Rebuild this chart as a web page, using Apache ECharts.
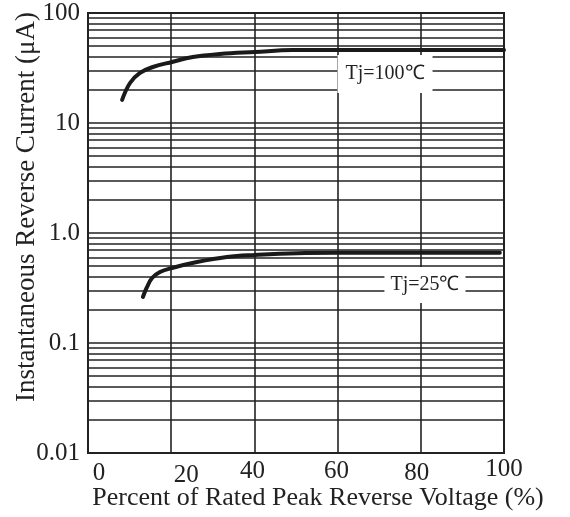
<!DOCTYPE html>
<html>
<head>
<meta charset="utf-8">
<script src="https://cdn.jsdelivr.net/npm/echarts@6/dist/echarts.min.js"></script>
<style>
html,body{margin:0;padding:0;background:#fff;}
#c{width:570px;height:517px;}
</style>
</head>
<body>
<div id="c"></div>
<script>
// Data
var pct100 = [8.2, 10.1, 12.5, 15.6, 20.2, 25.2, 31.7, 40.1, 49.3, 59.9, 70, 80, 90, 100];
var cur100 = [16.2, 23.1, 28.5, 32.3, 35.9, 39.8, 42.4, 44.2, 46.0, 46.2, 46.2, 46.0, 46.0, 46.0];
var pct25 = [13.2, 14.2, 15.4, 17.3, 20.2, 26.2, 33.4, 40.1, 50.2, 60, 70, 80, 90, 99];
var cur25 = [0.262, 0.323, 0.39, 0.442, 0.481, 0.545, 0.605, 0.631, 0.655, 0.66, 0.66, 0.66, 0.66, 0.66];
var xTickLabels = ['0', '20', '40', '60', '80', '100'];
var yTickValues = [0.01, 0.1, 1, 10, 100];
var yTickLabels = ['0.01', '0.1', '1.0', '10', '100'];
var decades = [0.01, 0.1, 1, 10];
var minorMultipliers = [2, 3, 4, 5, 6, 7, 8, 9];
var label100 = {x: 71.4, y: 27.9, text: 'Tj=100℃'};
var label25 = {x: 81.0, y: 0.337, text: 'Tj=25℃'};

var FONT = "'Liberation Serif','Times New Roman',serif";
var GRID = '#222';

function zip(a, b) { return a.map(function (v, i) { return [v, b[i]]; }); }

var minorLines = [];
decades.forEach(function (d) {
  minorMultipliers.forEach(function (m) {
    minorLines.push({ yAxis: +(d * m).toPrecision(3) });
  });
});

var chart = echarts.init(document.getElementById('c'), null, {renderer: 'canvas'});
chart.setOption({
  animation: false,
  backgroundColor: '#fff',
  grid: { left: 88, right: 66, top: 13, bottom: 64, show: true, borderColor: GRID, borderWidth: 2,
          backgroundColor: 'transparent', containLabel: false, outerBoundsMode: 'none' },
  xAxis: {
    type: 'value', min: 0, max: 100, interval: 20,
    name: 'Percent of Rated Peak Reverse Voltage (%)',
    nameLocation: 'middle', nameGap: 32, nameMoveOverlap: false,
    nameTextStyle: { fontFamily: FONT, fontSize: 26, color: '#222', padding: [0, 0, 0, 44] },
    axisLine: { show: true, lineStyle: { color: GRID, width: 2 } },
    axisTick: { show: false },
    splitLine: { show: true, lineStyle: { color: GRID, width: 1.6 } },
    axisLabel: {
      margin: 6,
      fontFamily: FONT, fontSize: 25, color: '#222',
      formatter: function (v) {
        var i = Math.round(v / 20);
        return '{l' + i + '|' + xTickLabels[i] + '}';
      },
      rich: {
        l0: { fontFamily: FONT, fontSize: 25, color: '#222', padding: [2, 0, 0, 22] },
        l1: { fontFamily: FONT, fontSize: 25, color: '#222', padding: [4, 0, 0, 30] },
        l2: { fontFamily: FONT, fontSize: 25, color: '#222', padding: [0, 4, 0, 0] },
        l3: { fontFamily: FONT, fontSize: 25, color: '#222', padding: [0, 2, 0, 0] },
        l4: { fontFamily: FONT, fontSize: 25, color: '#222', padding: [2, 8, 0, 0] },
        l5: { fontFamily: FONT, fontSize: 25, color: '#222', padding: [-2, 0, 0, 0] }
      }
    }
  },
  yAxis: {
    type: 'log', logBase: 10, min: 0.01, max: 100,
    name: 'Instantaneous Reverse Current (μA)',
    nameLocation: 'middle', nameGap: 48, nameMoveOverlap: false,
    nameTextStyle: { fontFamily: FONT, fontSize: 27, color: '#222', padding: [0, 0, 0, 52] },
    axisLine: { show: true, lineStyle: { color: GRID, width: 2 } },
    axisTick: { show: false },
    splitLine: { show: true, lineStyle: { color: GRID, width: 1.6 } },
    axisLabel: {
      margin: 8,
      fontFamily: FONT, fontSize: 25, color: '#222',
      formatter: function (v) {
        for (var i = 0; i < yTickValues.length; i++) {
          if (Math.abs(Math.log10(v) - Math.log10(yTickValues[i])) < 1e-6) return yTickLabels[i];
        }
        return '';
      }
    }
  },
  series: [
    {
      type: 'line', data: zip(pct100, cur100), smooth: 0.4, symbol: 'none',
      lineStyle: { color: '#1a1a1a', width: 4, cap: 'round' },
      markLine: {
        silent: true, symbol: 'none', animation: false,
        label: { show: false },
        lineStyle: { color: GRID, width: 1.6, type: 'solid' },
        data: minorLines
      },
      markPoint: {
        silent: true,
        data: [{
          coord: [label100.x, label100.y], symbol: 'rect', symbolSize: 1,
          itemStyle: { color: 'rgba(0,0,0,0)' },
          label: {
            show: true, position: 'inside', formatter: label100.text,
            fontFamily: FONT, fontSize: 20, color: '#222',
            backgroundColor: '#fff', padding: [9, 8, 9, 8]
          }
        }]
      },
      z: 5
    },
    {
      type: 'line', data: zip(pct25, cur25), smooth: 0.4, symbol: 'none',
      lineStyle: { color: '#1a1a1a', width: 4, cap: 'round' },
      markPoint: {
        silent: true,
        data: [{
          coord: [label25.x, label25.y], symbol: 'rect', symbolSize: 1,
          itemStyle: { color: 'rgba(0,0,0,0)' },
          label: {
            show: true, position: 'inside', formatter: label25.text,
            fontFamily: FONT, fontSize: 20, color: '#222',
            backgroundColor: '#fff', padding: [8, 6, 8, 6]
          }
        }]
      },
      z: 5
    }
  ]
});
</script>
</body>
</html>
